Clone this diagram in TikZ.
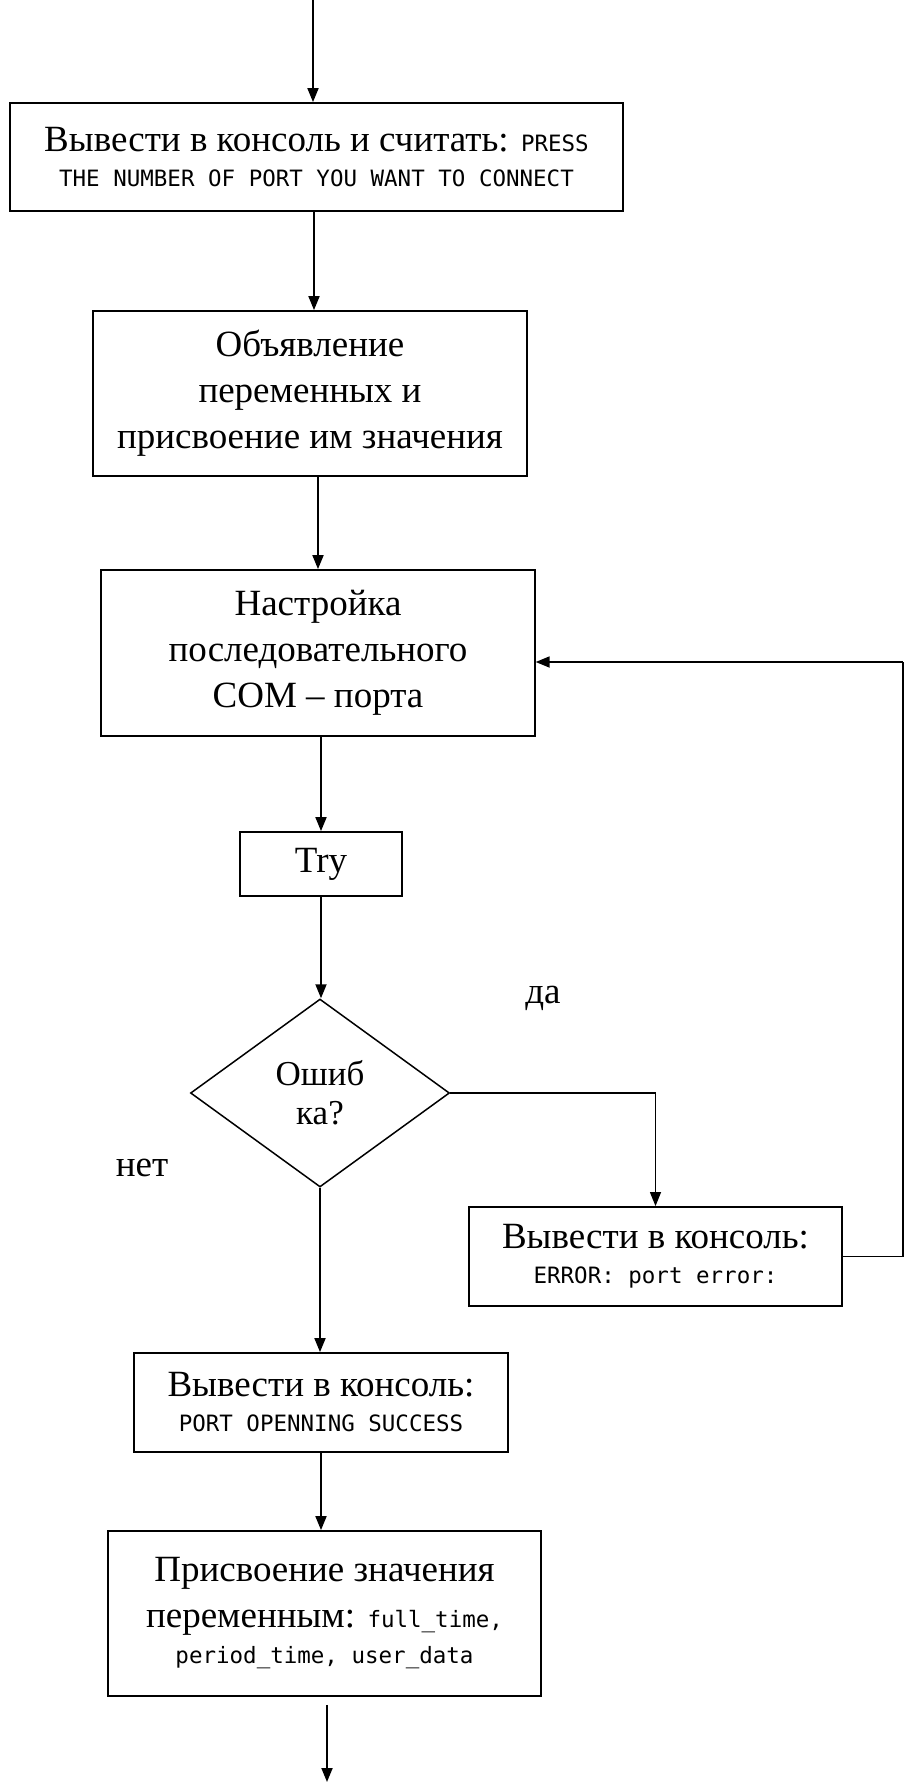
\documentclass[tikz,border=0pt]{standalone}
\usepackage{fontspec}
\setmainfont{Liberation Serif}
\newfontfamily\monof{DejaVu Sans Mono}
\usetikzlibrary{shapes.geometric,arrows.meta}
\newcommand\monotxt[1]{{\monof\fontsize{22.5}{35}\selectfont #1}}
\begin{document}
\begin{tikzpicture}[x=1pt,y=-1pt,
 box/.style={draw,line width=1.8pt,align=center,inner sep=0pt},
 arr/.style={line width=1.8pt,-{Triangle[length=14pt,width=11pt]}},
 thinln/.style={line width=1.1pt},
 thinarr/.style={line width=1.1pt,-{Triangle[length=14pt,width=11pt]}},
 ser/.style={font=\fontsize{37}{46}\selectfont},
 ser2/.style={font=\fontsize{37}{35}\selectfont},
]
\useasboundingbox (0,0) rectangle (904,1782);
\node[box, ser2, minimum width=613pt, minimum height=108pt] (b1) at (316.5,157)
  {Вывести в консоль и считать: \monotxt{PRESS}\\ \monotxt{THE NUMBER OF PORT YOU WANT TO CONNECT}};
\node[box, ser, minimum width=434pt, minimum height=165pt] (b2) at (310,393.5)
  {Объявление\\переменных и\\присвоение им значения};
\node[box, ser, minimum width=433.5pt, minimum height=166pt] (b3) at (318,653)
  {Настройка\\последовательного\\COM – порта};
\node[box, ser, minimum width=161.5pt, minimum height=64pt] (try) at (321,864) {Try};
\node[draw, diamond, line width=1.5pt, align=center, inner sep=0pt,
  minimum width=259pt, minimum height=188pt, font=\fontsize{35}{39}\selectfont] (dia) at (320,1093)
  {Ошиб\\ка?};
\node[box, ser2, minimum width=373pt, minimum height=99pt] (err) at (655.5,1256.5)
  {Вывести в консоль:\\ \monotxt{ERROR: port error:}};
\node[box, ser2, minimum width=373.5pt, minimum height=99pt] (succ) at (321,1402.5)
  {Вывести в консоль:\\ \monotxt{PORT OPENNING SUCCESS}};
\node[box, ser, minimum width=433pt, minimum height=165pt] (b5) at (324.5,1613.5)
  {Присвоение значения\\переменным: \monotxt{full\_time,}\\[-10pt] \monotxt{period\_time, user\_data}};
\node[ser] (da) at (543,998) {да};
\node[ser] (net) at (142,1168) {нет};
\coordinate (top) at (313,0);
\coordinate (bot) at (327,1782);
\coordinate (fb) at (903,662);
\draw[arr] (top) -- (top |- b1.north);
\draw[arr] ([xshift=-2.5pt]b1.south) -- ([xshift=-2.5pt]b1.south |- b2.north);
\draw[arr] (b3.north |- b2.south) -- (b3.north);
\draw[arr] (try.north |- b3.south) -- (try.north);
\draw[arr] (try.south) -- (try.south |- dia.north);
\draw[arr] (dia.south) -- (dia.south |- succ.north);
\draw[arr] (succ.south) -- (succ.south |- b5.north);
\draw[arr] ([yshift=-8pt]b5.south -| bot) -- (bot);
\draw[thinarr] (dia.east) -| (err.north);
\draw[thinln] (err.east) -| (fb);
\draw[arr] (fb) -- (fb -| b3.east);
\end{tikzpicture}
\end{document}
